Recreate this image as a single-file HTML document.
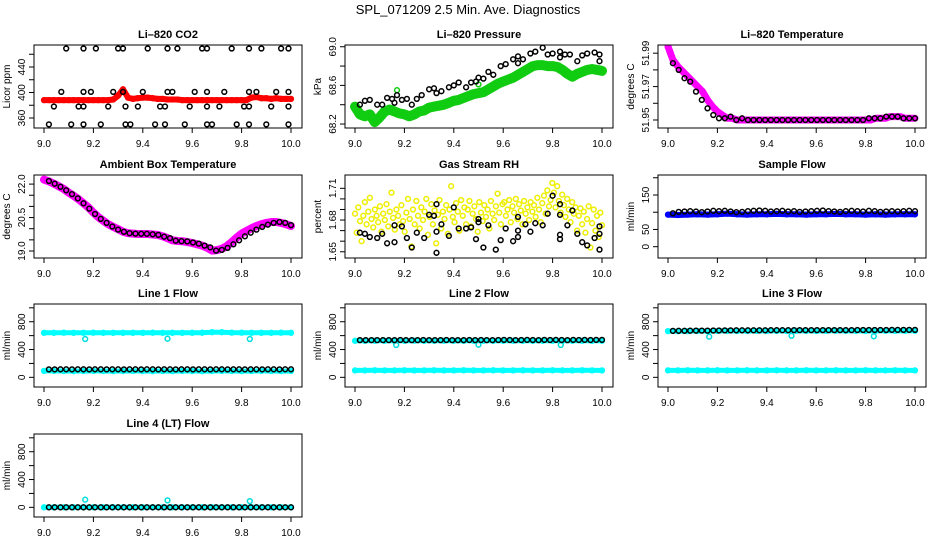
<!DOCTYPE html>
<html><head><meta charset="utf-8">
<style>
html,body{margin:0;padding:0;background:#fff;}
svg{display:block;font-family:"Liberation Sans",Arial,sans-serif;}
</style></head>
<body>
<svg id="c" width="936" height="540" viewBox="0 0 936 540" xmlns="http://www.w3.org/2000/svg">
<text x="468" y="14" text-anchor="middle" font-size="13">SPL_071209  2.5 Min. Ave. Diagnostics</text>
</svg>
<script>
// ---------- data ----------
const xTicks = [9.0, 9.2, 9.4, 9.6, 9.8, 10.0];
const xTickLabels = ["9.0", "9.2", "9.4", "9.6", "9.8", "10.0"];

// CO2
const co2Red = [388,388,388,388,388,388,388,388,388,388,388,388,388,388,389,395,405,392,390,391,392,392,391,390,390,389,389,389,388,388,388,388,388,388,388,388,388,388,388,388,388,388,392,393,391,391,390,391,390,390,390];
const co2BlackX = [9.09,9.16,9.21,9.30,9.32,9.42,9.50,9.54,9.64,9.66,9.76,9.83,9.88,9.96,9.99, 9.07,9.16,9.19,9.28,9.32,9.40,9.50,9.52,9.61,9.66,9.73,9.83,9.86,9.94,9.99, 9.04,9.14,9.16,9.26,9.33,9.38,9.47,9.49,9.59,9.66,9.71,9.81,9.83,9.92,9.99, 9.02,9.11,9.16,9.23,9.33,9.35,9.45,9.49,9.57,9.66,9.68,9.78,9.83,9.90,9.99];
const co2BlackY = [469,469,469,469,469,469,469,469,469,469,469,469,469,469,469, 401,401,401,401,401,401,401,401,401,401,401,401,401,401,401, 378,378,378,378,378,378,378,378,378,378,378,378,378,378,378, 350,350,350,350,350,350,350,350,350,350,350,350,350,350,350];

// Pressure
const presGreen = [68.38,68.30,68.28,68.30,68.22,68.27,68.33,68.35,68.33,68.31,68.30,68.28,68.30,68.33,68.34,68.37,68.38,68.39,68.40,68.42,68.44,68.45,68.47,68.49,68.51,68.52,68.53,68.56,68.59,68.62,68.64,68.66,68.68,68.71,68.74,68.77,68.80,68.81,68.81,68.80,68.80,68.79,68.76,68.72,68.69,68.72,68.74,68.76,68.77,68.76,68.75];
const presBlackX = [9.02,9.04,9.06,9.09,9.11,9.13,9.15,9.16,9.17,9.19,9.21,9.23,9.25,9.27,9.30,9.32,9.33,9.35,9.38,9.40,9.42,9.45,9.47,9.49,9.50,9.52,9.54,9.56,9.59,9.61,9.64,9.66,9.66,9.68,9.71,9.73,9.76,9.78,9.80,9.83,9.83,9.85,9.87,9.90,9.92,9.94,9.97,9.99,9.99];
const presBlackY = [68.40,68.44,68.45,68.40,68.40,68.47,68.46,68.42,68.50,68.45,68.46,68.40,68.46,68.50,68.56,68.57,68.52,68.54,68.58,68.60,68.63,68.58,68.63,68.64,68.68,68.67,68.74,68.71,68.80,68.82,68.87,68.90,68.83,68.87,68.93,68.95,68.99,68.92,68.93,68.95,68.89,68.92,68.92,68.85,68.91,68.93,68.94,68.92,68.85];
const presGreenDotX = [9.17, 9.50];
const presGreenDotY = [68.55, 68.61];

// Li-820 temperature
const tempMag = [51.994,51.986,51.982,51.979,51.976,51.973,51.970,51.967,51.962,51.958,51.955,51.953,51.951,51.951,51.950,51.950,51.950,51.950,51.950,51.950,51.950,51.950,51.950,51.950,51.950,51.950,51.950,51.950,51.950,51.950,51.950,51.950,51.950,51.950,51.950,51.950,51.950,51.950,51.950,51.950,51.950,51.950,51.951,51.951,51.951,51.952,51.952,51.952,51.951,51.951,51.951];
const tempBlack = [51.984,51.980,51.975,51.973,51.967,51.962,51.957,51.953,51.951,51.951,51.952,51.950,51.951,51.950,51.950,51.950,51.950,51.950,51.950,51.950,51.950,51.950,51.950,51.950,51.950,51.950,51.950,51.950,51.950,51.950,51.950,51.950,51.950,51.950,51.951,51.951,51.951,51.952,51.952,51.952,51.951,51.951,51.951];

// Ambient box temperature
const ambMag = [22.20,22.12,22.02,21.90,21.78,21.62,21.48,21.32,21.14,20.95,20.72,20.52,20.36,20.20,20.08,19.98,19.86,19.80,19.78,19.76,19.76,19.76,19.74,19.72,19.66,19.58,19.48,19.45,19.44,19.40,19.36,19.30,19.24,19.15,19.02,19.04,19.10,19.22,19.40,19.60,19.78,19.90,20.02,20.12,20.20,20.26,20.30,20.30,20.26,20.20,20.12];
const ambBlack = [22.14,22.02,21.88,21.72,21.55,21.36,21.14,20.90,20.66,20.44,20.26,20.10,19.96,19.86,19.80,19.78,19.77,19.77,19.75,19.72,19.64,19.58,19.46,19.44,19.43,19.38,19.33,19.24,19.16,19.02,19.05,19.14,19.30,19.48,19.66,19.82,19.96,20.08,20.18,20.26,20.30,20.26,20.16];

// Gas stream RH
const rhYellow = [1.686,1.668,1.692,1.679,1.660,1.684,1.697,1.676,1.688,1.701,1.681,1.673,1.690,1.684,1.678,1.693,1.669,1.686,1.680,1.695,1.674,1.688,1.706,1.682,1.671,1.690,1.684,1.676,1.694,1.679,
1.669,1.687,1.700,1.681,1.655,1.690,1.676,1.698,1.684,1.672,1.692,1.680,1.688,1.700,1.666,1.683,1.695,1.676,1.689,1.658,1.685,1.699,1.672,1.688,1.681,1.694,1.667,1.690,1.712,1.683,
1.678,1.696,1.688,1.670,1.699,1.684,1.692,1.676,1.690,1.698,1.674,1.686,1.693,1.681,1.669,1.697,1.687,1.679,1.694,1.683,1.690,1.672,1.698,1.686,1.680,1.693,1.705,1.687,1.676,1.695,
1.697,1.684,1.690,1.699,1.678,1.693,1.687,1.700,1.681,1.695,1.689,1.676,1.698,1.686,1.692,1.680,1.697,1.688,1.694,1.683,1.701,1.690,1.678,1.696,1.703,1.686,1.708,1.693,1.699,1.715,
1.706,1.692,1.712,1.698,1.687,1.704,1.694,1.683,1.700,1.690,1.678,1.697,1.686,1.692,1.670,1.684,1.691,1.676,1.688,1.668,1.681,1.693,1.654,1.677,1.690,1.670,1.684,1.664,1.687,1.675];
const rhBlackX = [9.02,9.04,9.06,9.09,9.11,9.13,9.16,9.16,9.19,9.21,9.23,9.25,9.28,9.30,9.32,9.33,9.33,9.33,9.35,9.38,9.40,9.42,9.45,9.47,9.49,9.50,9.50,9.52,9.54,9.57,9.59,9.61,9.64,9.66,9.66,9.66,9.69,9.71,9.73,9.76,9.78,9.80,9.83,9.83,9.83,9.83,9.86,9.88,9.90,9.92,9.94,9.97,9.99,9.99,9.99];
const rhBlackY = [1.668,1.667,1.664,1.663,1.667,1.658,1.675,1.659,1.674,1.663,1.654,1.668,1.663,1.685,1.684,1.695,1.669,1.649,1.676,1.665,1.692,1.672,1.672,1.673,1.662,1.681,1.678,1.654,1.675,1.652,1.661,1.672,1.660,1.670,1.664,1.683,1.676,1.669,1.677,1.675,1.686,1.703,1.695,1.666,1.662,1.685,1.675,1.689,1.667,1.659,1.656,1.663,1.667,1.652,1.674];

// Sample flow
const sampleBlue = [93,92,93,94,93,94,96,94,93,94,94,95,94,94,93,94,94,95,94,94,93,94,93,94,94,94];
const sampleBlack = [97,101,102,103,102,100,102,104,103,104,102,100,101,103,104,105,104,102,103,104,102,103,101,102,103,104,105,103,102,101,103,104,103,102,104,103,101,102,103,102,103,104,103];

// Line flows
const dipX = [9.167, 9.5, 9.833];
const line1High = [640,640,642,641,640,642,641,640,641,640,641,642,640,641,641,640,642,650,650,644,642,641,641,640,642,641];
const line1Low = [92,92,91,90,91,92,91,90,91,92,91,90,91,90,92,91,90,91,92,91,90,91,92,91,90,91];
const line1Black = [114,114,115,115,114,115,115,114,115,115,114,115,115,114,115,115,114,115,115,114,115,115,114,115,115,114,115,115,114,115,115,114,115,115,114,115,115,114,115,115,114,115,115];
const line1Dip = [551,556,551];
const line2High = [525,525,526,525,525,526,527,525,526,525,526,525,526,525,526,526,525,526,525,526,525,526,525,526,526,525];
const line2Low = [100,100,101,100,100,101,100,100,101,100,100,101,100,100,101,100,100,101,100,100,101,100,100,101,100,100];
const line2Black = [535,535,536,535,536,535,536,537,536,535,536,537,536,535,536,537,536,535,536,537,536,537,536,535,537,538,537,536,537,538,537,536,538,537,538,537,536,538,537,538,537,538,538];
const line2Dip = [465,470,465];
const line3High = [665,664,665,666,665,666,666,667,666,667,667,668,667,668,668,667,668,669,668,668,667,668,669,668,668,669];
const line3Low = [100,100,101,100,100,101,100,100,101,100,100,101,100,100,101,100,100,101,100,100,101,100,100,101,100,100];
const line3Black = [668,669,670,671,672,672,673,674,674,675,675,676,676,676,677,677,677,678,678,678,678,679,679,679,679,679,680,680,680,680,680,680,681,681,681,681,681,681,682,682,682,682,682];
const line3Dip = [585,598,590];
const line4High = [0,0,0,0,0,0,0,0,0,0,0,0,0,0,0,0,0,0,0,0,0,0,0,0,0,0];
const line4Black = [0,0,0,0,0,0,0,0,0,0,0,0,0,0,0,0,0,0,0,0,0,0,0,0,0,0,0,0,0,0,0,0,0,0,0,0,0,0,0,0,0,0,0];
const line4Dip = [110,100,90];

// ---------- drawing ----------
const NS = "http://www.w3.org/2000/svg";
const svg = document.getElementById("c");
const colLeft = [34, 345, 658], W = 268, rowTop = [45, 175, 304, 434], H = 83;

function mk(tag, attrs, parent) {
  const e = document.createElementNS(NS, tag);
  for (const k in attrs) e.setAttribute(k, attrs[k]);
  (parent || svg).appendChild(e);
  return e;
}
function range(start, step, n) { const a = []; for (let i = 0; i < n; i++) a.push(start + i * step); return a; }
function fmt(v, d) { return v.toFixed(d); }

function panel(cfg) {
  const L = colLeft[cfg.col], T = rowTop[cfg.row];
  const g = mk("g", {});
  
  
  const xs = x => L + 10 + (x - 9) * (W - 21);
  const ys = v => T + (cfg.top - v) / (cfg.top - cfg.bottom) * H;
  const clip = "clip-" + cfg.name;
  const cp = mk("clipPath", { id: clip }, g);
  mk("rect", { x: L, y: T, width: W, height: H }, cp);
  const plot = mk("g", { "clip-path": "url(#" + clip + ")" }, g);
  
  

  cfg.series.forEach(s => {
    const X = s.xs || range(s.x0, s.step, s.vals.length);
    if (s.band) {
      const pts = X.map((x, i) => xs(x).toFixed(1) + "," + ys(s.vals[i]).toFixed(1)).join(" ");
      const pl = mk("polyline", { points: pts, fill: "none", stroke: s.color, "stroke-width": s.band, "stroke-linejoin": "round", "stroke-linecap": "round" }, plot);
      
      
    }
    X.forEach((x, i) => {
      const c = mk("circle", { cx: xs(x).toFixed(1), cy: ys(s.vals[i]).toFixed(1), r: s.r || 2.4, fill: "none", stroke: s.color, "stroke-width": 1.5 }, plot);
      
      
    });
  });

  const box = mk("rect", { x: L, y: T, width: W, height: H, fill: "none", stroke: "#000", "stroke-width": 1 }, g);
  
  

  // title
  const t = mk("text", { x: L + W / 2, y: T - 7, "text-anchor": "middle", "font-size": 11, "font-weight": "bold" }, g);
  t.textContent = cfg.title;
  
  

  // x axis
  const by = T + H;
  mk("line", { x1: xs(9), y1: by, x2: xs(10), y2: by, stroke: "#000" }, g);
  xTicks.forEach((v, i) => {
    mk("line", { x1: xs(v), y1: by, x2: xs(v), y2: by + 5, stroke: "#000" }, g);
    const tl = mk("text", { x: xs(v), y: by + 19, "text-anchor": "middle", "font-size": 10 }, g);
    tl.textContent = xTickLabels[i];
    
    
  });

  // y axis
  const yt = cfg.yticks;
  mk("line", { x1: L, y1: ys(yt[0]), x2: L, y2: ys(yt[yt.length - 1]), stroke: "#000" }, g);
  yt.forEach(v => mk("line", { x1: L - 5, y1: ys(v), x2: L, y2: ys(v), stroke: "#000" }, g));
  cfg.ylabels.forEach(v => {
    const yy = ys(v), xx = L - 9;
    const tl = mk("text", { x: xx, y: yy, "text-anchor": "middle", "font-size": 10, transform: "rotate(-90 " + xx + " " + yy + ")" }, g);
    tl.textContent = fmt(v, cfg.dec);
    
    
  });
  const ax = L - 24, ay = T + H / 2;
  const yl = mk("text", { x: ax, y: ay, "text-anchor": "middle", "font-size": 10, transform: "rotate(-90 " + ax + " " + ay + ")" }, g);
  yl.textContent = cfg.ylab;
  
  
}

const blkStep = (10 - 9.02) / 42;
const flowTicks = [0, 200, 400, 600, 800, 1000];
const flowLabels = [0, 400, 800];

panel({ name: "co2-panel", title: "Li\u2013820 CO2", col: 0, row: 0, top: 474.5, bottom: 344.3, yticks: [360,380,400,420,440,460], ylabels: [360,400,440], dec: 0, ylab: "Licor ppm",
  series: [{ name: "co2-red", x0: 9, step: 0.02, vals: co2Red, color: "#f00", band: 6, r: 2.4 },
           { name: "co2-black", xs: co2BlackX, vals: co2BlackY, color: "#000" }] });
panel({ name: "pressure-panel", title: "Li\u2013820 Pressure", col: 1, row: 0, top: 69.018, bottom: 68.159, yticks: [68.2,68.4,68.6,68.8,69.0], ylabels: [68.2,68.6,69.0], dec: 1, ylab: "kPa",
  series: [{ name: "pressure-green", x0: 9, step: 0.02, vals: presGreen, color: "#1c1", band: 10, r: 2.4 },
           { name: "pressure-green-dot", xs: presGreenDotX, vals: presGreenDotY, color: "#1c1" },
           { name: "pressure-black", xs: presBlackX, vals: presBlackY, color: "#000" }] });
panel({ name: "temperature-panel", title: "Li\u2013820 Temperature", col: 2, row: 0, top: 51.9949, bottom: 51.9452, yticks: [51.95,51.96,51.97,51.98,51.99], ylabels: [51.95,51.97,51.99], dec: 2, ylab: "degrees C",
  series: [{ name: "temperature-magenta", x0: 9, step: 0.02, vals: tempMag, color: "#f0f", band: 7, r: 2.4 },
           { name: "temperature-black", x0: 9.02, step: blkStep, vals: tempBlack, color: "#000" }] });
panel({ name: "ambient-panel", title: "Ambient Box Temperature", col: 0, row: 1, top: 22.408, bottom: 18.686, yticks: [19,19.5,20,20.5,21,21.5,22], ylabels: [19,20.5,22], dec: 1, ylab: "degrees C",
  series: [{ name: "ambient-magenta", x0: 9, step: 0.02, vals: ambMag, color: "#f0f", band: 8, r: 2.4 },
           { name: "ambient-black", x0: 9.02, step: blkStep, vals: ambBlack, color: "#000" }] });
panel({ name: "rh-panel", title: "Gas Stream RH", col: 1, row: 1, top: 1.7226, bottom: 1.6441, yticks: [1.65,1.66,1.67,1.68,1.69,1.70,1.71], ylabels: [1.65,1.68,1.71], dec: 2, ylab: "percent",
  series: [{ name: "rh-yellow", x0: 9, step: 1 / 149, vals: rhYellow, color: "#ee0" },
           { name: "rh-black", xs: rhBlackX, vals: rhBlackY, color: "#000" }] });
panel({ name: "sample-flow-panel", title: "Sample Flow", col: 2, row: 1, top: 208, bottom: -32.8, yticks: [0,50,100,150,200], ylabels: [0,50,150], dec: 0, ylab: "ml/min",
  series: [{ name: "sample-blue", x0: 9, step: 0.04, vals: sampleBlue, color: "#00f", band: 6 },
           { name: "sample-black", x0: 9.02, step: blkStep, vals: sampleBlack, color: "#000" }] });
panel({ name: "line1-panel", title: "Line 1 Flow", col: 0, row: 2, top: 1055, bottom: -139, yticks: flowTicks, ylabels: flowLabels, dec: 0, ylab: "ml/min",
  series: [{ name: "line1-cyan-high", x0: 9, step: 0.04, vals: line1High, color: "#0ff", band: 5 },
           { name: "line1-cyan-low", x0: 9, step: 0.04, vals: line1Low, color: "#0ff", band: 5 },
           { name: "line1-dip", xs: dipX, vals: line1Dip, color: "#0dd" },
           { name: "line1-black", x0: 9.02, step: blkStep, vals: line1Black, color: "#000" }] });
panel({ name: "line2-panel", title: "Line 2 Flow", col: 1, row: 2, top: 1055, bottom: -139, yticks: flowTicks, ylabels: flowLabels, dec: 0, ylab: "ml/min",
  series: [{ name: "line2-cyan-high", x0: 9, step: 0.04, vals: line2High, color: "#0ff", band: 5 },
           { name: "line2-cyan-low", x0: 9, step: 0.04, vals: line2Low, color: "#0ff", band: 5 },
           { name: "line2-dip", xs: dipX, vals: line2Dip, color: "#0dd" },
           { name: "line2-black", x0: 9.02, step: blkStep, vals: line2Black, color: "#000" }] });
panel({ name: "line3-panel", title: "Line 3 Flow", col: 2, row: 2, top: 1055, bottom: -139, yticks: flowTicks, ylabels: flowLabels, dec: 0, ylab: "ml/min",
  series: [{ name: "line3-cyan-high", x0: 9, step: 0.04, vals: line3High, color: "#0ff", band: 5 },
           { name: "line3-cyan-low", x0: 9, step: 0.04, vals: line3Low, color: "#0ff", band: 5 },
           { name: "line3-dip", xs: dipX, vals: line3Dip, color: "#0dd" },
           { name: "line3-black", x0: 9.02, step: blkStep, vals: line3Black, color: "#000" }] });
panel({ name: "line4-panel", title: "Line 4 (LT) Flow", col: 0, row: 3, top: 1055, bottom: -139, yticks: flowTicks, ylabels: flowLabels, dec: 0, ylab: "ml/min",
  series: [{ name: "line4-cyan", x0: 9, step: 0.04, vals: line4High, color: "#0ff", band: 5 },
           { name: "line4-dip", xs: dipX, vals: line4Dip, color: "#0dd" },
           { name: "line4-black", x0: 9.02, step: blkStep, vals: line4Black, color: "#000" }] });
</script>
</body></html>
